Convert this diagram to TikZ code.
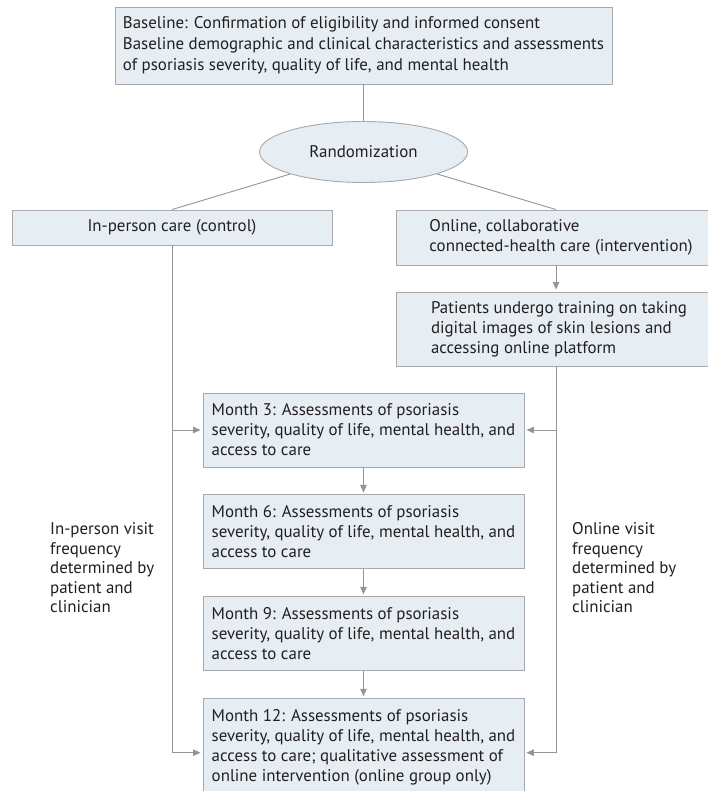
\documentclass[tikz,border=0pt]{standalone}
\usepackage{fontspec}
\setmainfont{PT Sans}
\usepackage{xcolor}
\usetikzlibrary{arrows.meta,positioning,shapes.geometric}
\definecolor{boxfill}{HTML}{E6EEF3}
\definecolor{boxline}{HTML}{A7A9AC}
\definecolor{linkgray}{HTML}{939598}
\definecolor{inktext}{HTML}{231F20}
\tikzset{
  stage/.style={draw=boxline,fill=boxfill,line width=0.9pt,align=left,
    inner xsep=8pt,text=inktext,font=\fontsize{16.9}{20}\selectfont},
  visit/.style={stage,minimum width=321pt,minimum height=74pt},
  note/.style={align=left,inner sep=0pt,text=inktext,
    font=\fontsize{16.9}{19.5}\selectfont},
  link/.style={draw=linkgray,line width=0.9pt},
  flow/.style={link,-{Triangle[length=7.5pt,width=6.5pt]},shorten >=2pt},
}

\begin{document}
\begin{tikzpicture}[x=1pt,y=-1pt,node distance=27pt]
  \clip (0,0) rectangle (708,791);
  \fill[white] (0,0) rectangle (708,791);

  % baseline and randomization
  \node[stage,minimum width=497pt,minimum height=77pt,
    font=\fontsize{16.9}{21}\selectfont] (baseline) at (363.5,45.5) {
    Baseline: Confirmation of eligibility and informed consent\\
    Baseline demographic and clinical characteristics and assessments\\
    of psoriasis severity, quality of life, and mental health};
  \node[ellipse,draw=boxline,fill=boxfill,line width=0.9pt,text=inktext,
    font=\fontsize{16.9}{20}\selectfont,
    minimum width=208pt,minimum height=61pt] (rand) at (363.5,152) {Randomization};

  % the two arms (right boxes run past the page edge)
  \node[stage,align=center,minimum width=320pt,minimum height=35pt] (inperson) at (172,227.5) {
    In-person care (control)};
  \node[stage,minimum width=330pt,minimum height=55pt] (online) at (561,237.5) {
    Online, collaborative\\
    connected-health care (intervention)};
  \node[stage,minimum width=326pt,minimum height=74pt] (training) at (559,329) {
    Patients undergo training on taking\\
    digital images of skin lesions and\\
    accessing online platform};

  % follow-up assessments
  \node[visit] (m3) at (363.5,430) {
    Month 3: Assessments of psoriasis\\
    severity, quality of life, mental health, and\\
    access to care};
  \node[visit,below=of m3] (m6) {
    Month 6: Assessments of psoriasis\\
    severity, quality of life, mental health, and\\
    access to care};
  \node[visit,below=of m6] (m9) {
    Month 9: Assessments of psoriasis\\
    severity, quality of life, mental health, and\\
    access to care};
  \node[visit,minimum height=98pt,below=of m9] (m12) {
    Month 12: Assessments of psoriasis\\
    severity, quality of life, mental health, and\\
    access to care; qualitative assessment of\\
    online intervention (online group only)};

  % visit frequency notes
  \node[note,anchor=west] (inpersonnote) at (50,568) {
    In-person visit\\frequency\\determined by\\patient and\\clinician};
  \node[note,anchor=west] (onlinenote) at (572,568) {
    Online visit\\frequency\\determined by\\patient and\\clinician};

  % connectors
  \draw[link] (baseline.south) -- (rand.north);
  \draw[link] (rand) -- (inperson.north);
  \draw[link] (rand) -- ([xshift=-5pt]online.north);
  \draw[flow] ([xshift=-5pt]online.south) -- ([xshift=-3pt]training.north);
  \draw[flow] (inperson.south) |- (m3.west);
  \draw[flow] (inperson.south) |- ([yshift=-5pt]m12.west);
  \draw[flow] ([xshift=-3pt]training.south) |- (m3.east);
  \draw[flow] ([xshift=-3pt]training.south) |- ([yshift=-5pt]m12.east);
  \draw[flow] (m3) -- (m6);
  \draw[flow] (m6) -- (m9);
  \draw[flow] (m9) -- (m12);
\end{tikzpicture}
\end{document}
